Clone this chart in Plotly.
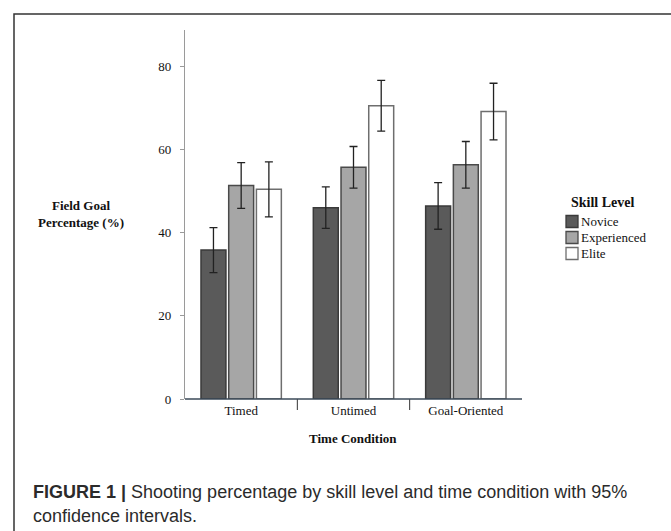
import plotly.graph_objects as go

# Field goal percentage by time condition and skill level, with 95% CI half-widths
conditions = ["Timed", "Untimed", "Goal-Oriented"]
skill_levels = ["Novice", "Experienced", "Elite"]
novice_pct = [35.8, 46.0, 46.4]
experienced_pct = [51.3, 55.7, 56.3]
elite_pct = [50.4, 70.5, 69.1]
novice_ci = [5.4, 5.0, 5.6]
experienced_ci = [5.5, 5.0, 5.6]
elite_ci = [6.6, 6.1, 6.8]
y_ticks = [0, 20, 40, 60, 80]

series_values = [novice_pct, experienced_pct, elite_pct]
series_ci = [novice_ci, experienced_ci, elite_ci]
fill_colors = ["#5a5a5a", "#a6a6a6", "#ffffff"]
edge_colors = ["#3a3a3a", "#4a4a4a", "#6e6e6e"]

SERIF = "Liberation Serif, Times New Roman, serif"
SANS = "Liberation Sans, Arial, sans-serif"

W, H = 671, 531
L, R, T, B = 185, 149, 30, 132
plot_w = W - L - R
plot_h = H - T - B
y_max = 88.7


def px_x(px):
    return (px - L) / plot_w


def px_y(py):
    return (H - B - py) / plot_h


fig = go.Figure()
for name, vals, ci, fc, ec in zip(skill_levels, series_values, series_ci, fill_colors, edge_colors):
    fig.add_trace(go.Bar(
        name=name,
        x=conditions,
        y=vals,
        marker=dict(color=fc, line=dict(color=ec, width=1.5)),
        error_y=dict(type="data", array=ci, visible=True,
                     color="#222222", thickness=1.3, width=4),
        showlegend=False,
    ))

shapes = []
# category separators below the baseline
for xpos in [0.5, 1.5]:
    shapes.append(dict(type="line", xref="x", yref="paper",
                       x0=xpos, x1=xpos, y0=0, y1=px_y(410),
                       line=dict(color="#333333", width=1)))
# baseline
shapes.append(dict(type="line", xref="paper", yref="paper",
                   x0=0, x1=1, y0=0, y1=0,
                   line=dict(color="#3b4a58", width=1.6)))
# outer frame around the figure panel
shapes.append(dict(type="rect", xref="paper", yref="paper",
                   x0=px_x(14), x1=px_x(700), y0=px_y(560), y1=px_y(14),
                   line=dict(color="#333333", width=1.5), layer="below"))

annotations = []
# y-axis title, horizontal at the left
annotations.append(dict(xref="paper", yref="paper", x=px_x(81), y=px_y(214),
                        text="<b>Field Goal<br>Percentage (%)</b>", showarrow=False,
                        font=dict(family=SERIF, size=13, color="#111111"),
                        xanchor="center", yanchor="middle", align="center"))
# x-axis title
annotations.append(dict(xref="paper", yref="paper", x=px_x(353), y=px_y(438),
                        text="<b>Time Condition</b>", showarrow=False,
                        font=dict(family=SERIF, size=13, color="#111111"),
                        xanchor="center", yanchor="middle"))

# legend: title, swatches and labels
annotations.append(dict(xref="paper", yref="paper", x=px_x(603), y=px_y(202),
                        text="<b>Skill Level</b>", showarrow=False,
                        font=dict(family=SERIF, size=14, color="#111111"),
                        xanchor="center", yanchor="middle"))
for i, (name, fc, ec) in enumerate(zip(skill_levels, fill_colors, edge_colors)):
    top = 215.5 + i * 16
    shapes.append(dict(type="rect", xref="paper", yref="paper",
                       x0=px_x(566), x1=px_x(578), y0=px_y(top + 12), y1=px_y(top),
                       fillcolor=fc, line=dict(color=ec, width=1.3)))
    annotations.append(dict(xref="paper", yref="paper", x=px_x(579), y=px_y(top + 6),
                            text=name, showarrow=False,
                            font=dict(family=SERIF, size=13, color="#111111"),
                            xanchor="left", yanchor="middle"))

# figure caption
annotations.append(dict(xref="paper", yref="paper", x=px_x(31), y=px_y(492),
                        text="<b>FIGURE 1 |</b> Shooting percentage by skill level and time condition with 95%",
                        showarrow=False, font=dict(family=SANS, size=18, color="#2b2b2b"),
                        xanchor="left", yanchor="middle"))
annotations.append(dict(xref="paper", yref="paper", x=px_x(31), y=px_y(516),
                        text="confidence intervals.",
                        showarrow=False, font=dict(family=SANS, size=18, color="#2b2b2b"),
                        xanchor="left", yanchor="middle"))

fig.update_layout(
    width=W, height=H,
    margin=dict(l=L, r=R, t=T, b=B, pad=0),
    paper_bgcolor="white", plot_bgcolor="white",
    barmode="group", bargap=0.26, bargroupgap=0.1,
    showlegend=False,
    shapes=shapes, annotations=annotations,
    xaxis=dict(
        type="category", showgrid=False, zeroline=False,
        showline=False, ticks="",
        tickfont=dict(family=SERIF, size=13, color="#111111"),
        ticklabelstandoff=2,
    ),
    yaxis=dict(
        range=[0, y_max], tickvals=y_ticks, ticktext=[str(v) for v in y_ticks],
        showgrid=False, zeroline=False,
        showline=True, linecolor="#9a9a9a", linewidth=1.2,
        ticks="outside", ticklen=4, tickcolor="#9a9a9a", tickwidth=1,
        tickfont=dict(family=SERIF, size=13, color="#111111"),
        ticklabelstandoff=6,
    ),
)

fig.write_html("out.html")
